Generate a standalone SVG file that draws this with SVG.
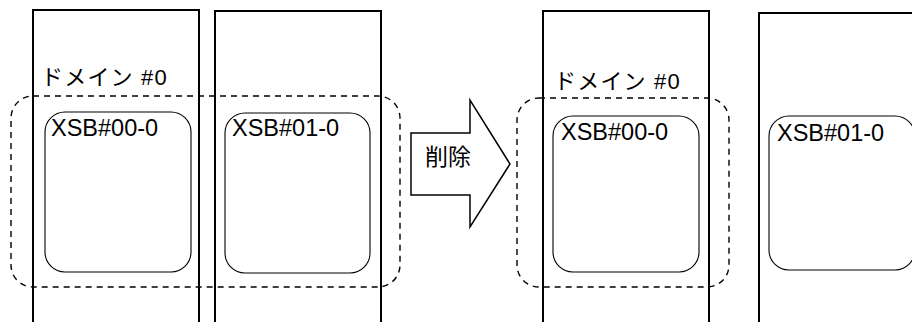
<svg xmlns="http://www.w3.org/2000/svg" width="912" height="322" viewBox="0 0 912 322">
<style>
.board{fill:none;stroke:#000;stroke-width:2}
.xsb{fill:none;stroke:#000;stroke-width:1.1}
.dom{fill:none;stroke:#000;stroke-width:1.4;stroke-dasharray:6 5}
.arrow{fill:#fff;stroke:#000;stroke-width:1.5;stroke-linejoin:miter}
.lbl{font-family:"Liberation Sans","Noto Sans CJK JP",sans-serif;font-size:23.5px;fill:#000}
.jp{font-family:"Liberation Sans","Noto Sans CJK JP",sans-serif;font-size:22px;letter-spacing:1.2px;fill:#000}
.del{font-family:"Noto Sans CJK JP",sans-serif;font-size:23px;fill:#000}
</style>
<rect width="912" height="322" fill="#fff"/>
<g id="board1"><rect class="board" x="33" y="10" width="166" height="330"/></g>
<g id="board2"><rect class="board" x="215" y="11" width="166" height="330"/></g>
<g id="board3"><rect class="board" x="543" y="11" width="166" height="330"/></g>
<g id="board4"><rect class="board" x="759" y="13" width="166" height="330"/></g>
<g id="domain-left">
<rect class="dom" x="11" y="96" width="389" height="191" rx="22" ry="22"/>
<text class="jp" x="41" y="85">ドメイン #0</text>
</g>
<g id="domain-right">
<rect class="dom" x="517" y="98" width="212" height="189" rx="22" ry="22"/>
<text class="jp" x="554" y="89">ドメイン #0</text>
</g>
<g id="xsb00-left">
<rect class="xsb" x="45" y="112" width="146" height="160" rx="20" ry="20"/>
<text class="lbl" x="51" y="136">XSB#00-0</text>
</g>
<g id="xsb01-left">
<rect class="xsb" x="225" y="113" width="145" height="160" rx="20" ry="20"/>
<text class="lbl" x="232" y="136">XSB#01-0</text>
</g>
<g id="xsb00-right">
<rect class="xsb" x="553" y="116" width="146" height="156" rx="20" ry="20"/>
<text class="lbl" x="561" y="140">XSB#00-0</text>
</g>
<g id="xsb01-right">
<rect class="xsb" x="769" y="116" width="146" height="154" rx="20" ry="20"/>
<text class="lbl" x="777" y="141">XSB#01-0</text>
</g>
<g id="connectors">
<g id="delete-arrow">
<polygon class="arrow" points="411,133 470,133 470,100 510,164 470,227 470,195 411,195"/>
<text class="del" x="425" y="165">削除</text>
</g>
</g>
</svg>
